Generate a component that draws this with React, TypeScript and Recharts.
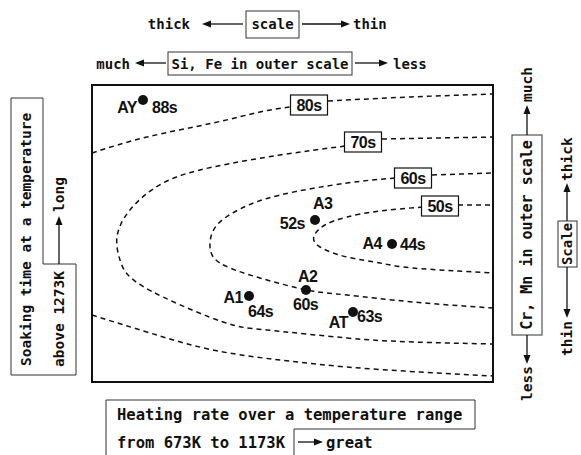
import React from 'react';
import { ComposedChart, Line, Scatter, XAxis, YAxis, ReferenceArea, ReferenceDot } from 'recharts';

// Plot coordinates: arbitrary units (x: heating rate →, y: soaking time ↑)
const xDomain: [number, number] = [0, 401];
const yDomain: [number, number] = [0, 297];

// Iso-descaling-time contours (dashed). Upper branches are split by their label boxes.
const c80UpperLeft = [
  { x: 0, y: 229 }, { x: 55, y: 245 }, { x: 121, y: 259 }, { x: 168, y: 270 }, { x: 198, y: 275 },
];
const c80UpperRight = [{ x: 236, y: 281 }, { x: 318, y: 285 }, { x: 401, y: 288 }];
const c80Lower = [
  { x: 0, y: 67 }, { x: 58, y: 49 }, { x: 121, y: 32 }, { x: 188, y: 22 }, { x: 255, y: 15 },
  { x: 328, y: 10 }, { x: 401, y: 6 },
];
const c70Right = [{ x: 290, y: 243 }, { x: 401, y: 245 }];
const c70Left = [
  { x: 253, y: 236 }, { x: 188, y: 227 }, { x: 121, y: 215 }, { x: 71, y: 199 }, { x: 38, y: 172 },
  { x: 25, y: 145 }, { x: 28, y: 122 }, { x: 38, y: 105 }, { x: 71, y: 85 }, { x: 131, y: 60 },
  { x: 175, y: 52 }, { x: 255, y: 44 }, { x: 321, y: 40 }, { x: 401, y: 38 },
];
const c60Right = [{ x: 340, y: 207 }, { x: 401, y: 209 }];
const c60Left = [
  { x: 303, y: 204 }, { x: 255, y: 199 }, { x: 188, y: 187 }, { x: 148, y: 173 }, { x: 125, y: 157 },
  { x: 118, y: 139 }, { x: 122, y: 124 }, { x: 138, y: 114 }, { x: 168, y: 104 }, { x: 215, y: 92 },
  { x: 255, y: 87 }, { x: 321, y: 80 }, { x: 401, y: 74 },
];
const c50Right = [{ x: 366, y: 177 }, { x: 401, y: 177 }];
const c50Left = [
  { x: 331, y: 175 }, { x: 288, y: 171 }, { x: 255, y: 165 }, { x: 233, y: 157 }, { x: 222, y: 146 },
  { x: 228, y: 135 }, { x: 255, y: 125 }, { x: 288, y: 119 }, { x: 321, y: 114 }, { x: 401, y: 109 },
];

const contourLabelText = ['80s', '70s', '60s', '50s'];
const contourLabelX = [217, 271, 321, 348];
const contourLabelY = [277, 240, 204, 176];

// Samples
const sampleNames = ['AY', 'A3', 'A4', 'A2', 'A1', 'AT'];
const sampleX = [51, 223, 300, 214, 157, 261];
const sampleY = [282, 162, 138, 92, 86, 70];
const sampleTime = [88, 52, 44, 60, 64, 63];

const sampleData = sampleNames.map((n, i) => ({ name: n, x: sampleX[i], y: sampleY[i], t: sampleTime[i] }));
const segments = [c80UpperLeft, c80UpperRight, c80Lower, c70Right, c70Left, c60Right, c60Left, c50Right, c50Left];

// label placement (pixels relative to the dot)
const placement: Record<string, { n: [number, number, 'start' | 'end']; v: [number, number, 'start' | 'end'] }> = {
  AY: { n: [-6, 13, 'end'], v: [9, 13, 'start'] },
  A3: { n: [-2, -11, 'start'], v: [-10, 9, 'end'] },
  A4: { n: [-10, 5, 'end'], v: [8, 6, 'start'] },
  A2: { n: [-8, -8, 'start'], v: [-13, 20, 'start'] },
  A1: { n: [-6, 7, 'end'], v: [-1, 21, 'start'] },
  AT: { n: [-5, 16, 'end'], v: [4, 10, 'start'] },
};

const INK = '#111';
const LBL = { fontFamily: '"Liberation Sans", Arial, sans-serif', fontWeight: 700, fontSize: 16, fill: INK } as const;
const MONO = '"DejaVu Sans Mono", "Liberation Mono", monospace';

const SampleShape = (p: any) => {
  const { cx, cy, payload } = p;
  const pl = placement[payload.name];
  return (
    <g>
      <circle cx={cx} cy={cy} r={5} fill={INK} />
      <text x={cx + pl.n[0]} y={cy + pl.n[1]} textAnchor={pl.n[2]} {...LBL} letterSpacing={-0.5}>{payload.name}</text>
      <text x={cx + pl.v[0]} y={cy + pl.v[1]} textAnchor={pl.v[2]} {...LBL} letterSpacing={-0.5}>{payload.t + 's'}</text>
    </g>
  );
};

const makeBox = (text: string) => (p: any) => {
  const { cx, cy } = p;
  return (
    <g>
      <rect x={cx - 18.5} y={cy - 10} width={37} height={20} fill="#fff" stroke={INK} strokeWidth={1.2} />
      <text x={cx} y={cy + 6} textAnchor="middle" {...LBL} letterSpacing={-0.5}>{text}</text>
    </g>
  );
};

const Arrow = ({ x1, y1, x2, y2 }: { x1: number; y1: number; x2: number; y2: number }) => {
  const dx = x2 - x1, dy = y2 - y1;
  const len = Math.hypot(dx, dy);
  const ux = dx / len, uy = dy / len;
  const hl = 9, hw = 3.5;
  const bx = x2 - ux * hl, by = y2 - uy * hl;
  const pts = `${x2},${y2} ${bx - uy * hw},${by + ux * hw} ${bx + uy * hw},${by - ux * hw}`;
  return (
    <g>
      <line x1={x1} y1={y1} x2={bx} y2={by} stroke={INK} strokeWidth={1.3} />
      <polygon points={pts} fill={INK} />
    </g>
  );
};

const VText = ({ x, y, size, anchor = 'start', children }: any) => (
  <text transform={`translate(${x},${y}) rotate(-90)`} textAnchor={anchor} fontFamily={MONO} fontWeight={700} fontSize={size} fill={INK}>
    {children}
  </text>
);

const HText = ({ x, y, size, anchor = 'start', children }: any) => (
  <text x={x} y={y} textAnchor={anchor} fontFamily={MONO} fontWeight={700} fontSize={size} fill={INK}>
    {children}
  </text>
);

const Annotations = () => (
  <svg width={581} height={455} style={{ position: 'absolute', left: 0, top: 0, pointerEvents: 'none' }}>
    {/* top */}
    <HText x={190} y={29} size={14} anchor="end">thick</HText>
    <Arrow x1={243} y1={24} x2={202} y2={24} />
    <rect x={246} y={11} width={53} height={27} fill="none" stroke="#333" strokeWidth={1} />
    <HText x={272.5} y={29} size={14} anchor="middle">scale</HText>
    <Arrow x1={302} y1={24} x2={350} y2={24} />
    <HText x={353} y={29} size={14}>thin</HText>

    <HText x={130} y={69} size={14} anchor="end">much</HText>
    <Arrow x1={166} y1={63} x2={135} y2={63} />
    <rect x={168} y={52} width={184} height={23} fill="none" stroke="#333" strokeWidth={1} />
    <HText x={260} y={69} size={14} anchor="middle">Si, Fe in outer scale</HText>
    <Arrow x1={355} y1={63} x2={388} y2={63} />
    <HText x={393} y={69} size={14}>less</HText>

    {/* left */}
    <path d="M11 375 L11 98 L43 98 L43 264 L76 264 L76 375 Z" fill="none" stroke="#333" strokeWidth={1} />
    <VText x={31} y={366} size={14.5}>Soaking time at a temperature</VText>
    <VText x={64} y={367} size={14.5}>above 1273K</VText>
    <Arrow x1={59} y1={264} x2={59} y2={216} />
    <VText x={64} y={212} size={14.5}>long</VText>

    {/* right */}
    <rect x={512} y={135} width={30} height={200} fill="none" stroke="#333" strokeWidth={1} />
    <VText x={532} y={235} size={15} anchor="middle">Cr, Mn in outer scale</VText>
    <Arrow x1={527} y1={135} x2={527} y2={105} />
    <VText x={532} y={102} size={14.5}>much</VText>
    <Arrow x1={527} y1={335} x2={527} y2={364} />
    <VText x={532} y={401} size={14.5}>less</VText>

    <VText x={572} y={181} size={14.5}>thick</VText>
    <Arrow x1={567} y1={221} x2={567} y2={183} />
    <rect x={558} y={221} width={19} height={46} fill="none" stroke="#333" strokeWidth={1} />
    <VText x={572} y={244} size={14} anchor="middle">Scale</VText>
    <Arrow x1={567} y1={267} x2={567} y2={318} />
    <VText x={572} y={356} size={14.5}>thin</VText>

    {/* bottom */}
    <path d="M106 456 L106 400 L475 400 L475 429 L294 429 L294 456" fill="none" stroke="#333" strokeWidth={1} />
    <HText x={117} y={420} size={15.5}>Heating rate over a temperature range</HText>
    <HText x={117} y={448} size={15.5}>from 673K to 1173K</HText>
    <Arrow x1={298} y1={442} x2={323} y2={442} />
    <HText x={326} y={448} size={15.5}>great</HText>
  </svg>
);

export default function App() {
  return (
    <div style={{ position: 'absolute', left: 0, top: 0, width: 581, height: 455, background: '#fff' }}>
      <ComposedChart width={581} height={455} margin={{ top: 85, left: 92, right: 88, bottom: 73 }}>
        <XAxis type="number" dataKey="x" domain={xDomain} hide allowDataOverflow />
        <YAxis type="number" dataKey="y" domain={yDomain} hide allowDataOverflow />
        <ReferenceArea x1={0} x2={401} y1={0} y2={297} fill="none" stroke={INK} strokeWidth={2} ifOverflow="visible" />
        {segments.map((seg, i) => (
          <Line
            key={'c' + i}
            data={seg}
            dataKey="y"
            type="natural"
            stroke={INK}
            strokeWidth={1.5}
            strokeDasharray="5 4"
            dot={false}
            activeDot={false}
            isAnimationActive={false}
          />
        ))}
        {contourLabelText.map((t, i) => (
          <ReferenceDot key={t} x={contourLabelX[i]} y={contourLabelY[i]} r={0} shape={makeBox(t)} ifOverflow="visible" />
        ))}
        <Scatter data={sampleData} dataKey="y" shape={SampleShape} isAnimationActive={false} />
      </ComposedChart>
      <Annotations />
    </div>
  );
}
